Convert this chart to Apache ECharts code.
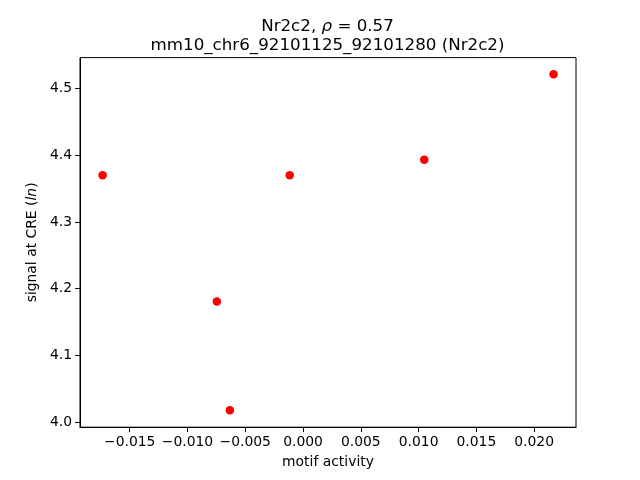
<!DOCTYPE html>
<html><head><meta charset="utf-8">
<script src="https://cdn.jsdelivr.net/npm/echarts@6/dist/echarts.min.js"></script>
<style>html,body{margin:0;padding:0;background:#fff}#c{width:640px;height:480px}</style>
</head><body><div id="c"></div>
<script>
const motifActivity = [-0.01734, -0.00746, -0.00633, -0.00115, 0.01049, 0.02168];
const signalLn = [4.370, 4.181, 4.018, 4.370, 4.393, 4.521];
const xTicks = [-0.015, -0.010, -0.005, 0.000, 0.005, 0.010, 0.015, 0.020];
const yTicks = [4.0, 4.1, 4.2, 4.3, 4.4, 4.5];
const xRange = [-0.0193, 0.02362];
const yRange = [3.9927, 4.546];

const fmt = (v, d) => { const s = Math.abs(v).toFixed(d); return (v < -1e-12 ? '\u2212' : '') + s; };
const font = 'DejaVu Sans';
const chart = echarts.init(document.getElementById('c'), null, {renderer: 'canvas'});
chart.setOption({
  animation: false,
  backgroundColor: '#fff',
  title: {
    left: 322.5, top: 12, textAlign: 'center',
    text: '{n|Nr2c2, }{i|ρ}{n| = 0.57}\n{n|mm10_chr6_92101125_92101280 (Nr2c2)}',
    textStyle: {
      fontWeight: 'normal',
      rich: {
        n: {fontFamily: font, fontSize: 16.7, fontWeight: 'normal', color: '#000', lineHeight: 19},
        i: {fontFamily: font, fontSize: 16.7, fontWeight: 'normal', fontStyle: 'italic', color: '#000', lineHeight: 19}
      }
    }
  },
  grid: {left: 80, right: 64, top: 57.6, bottom: 52.8, show: true, borderColor: '#000', borderWidth: 1},
  xAxis: {
    type: 'value', min: xRange[0], max: xRange[1],
    name: 'motif activity', nameLocation: 'middle', nameGap: 28,
    nameTextStyle: {fontFamily: font, fontSize: 13.9, color: '#000'},
    axisLine: {show: true, onZero: false, lineStyle: {color: '#000', width: 1}},
    axisTick: {show: true, inside: false, length: 4.9, lineStyle: {color: '#000'}, customValues: xTicks},
    axisLabel: {fontFamily: font, fontSize: 13.9, color: '#000', margin: 8, customValues: xTicks,
      formatter: v => fmt(v, 3)},
    splitLine: {show: false}
  },
  yAxis: {
    type: 'value', min: yRange[0], max: yRange[1],
    name: '{a|signal at CRE (}{b|ln}{a|)}', nameLocation: 'middle', nameGap: 39,
    nameTextStyle: {rich: {
      a: {fontFamily: font, fontSize: 13.9, color: '#000'},
      b: {fontFamily: font, fontSize: 13.9, color: '#000', fontStyle: 'italic'}
    }},
    axisLine: {show: true, onZero: false, lineStyle: {color: '#000', width: 1}},
    axisTick: {show: true, inside: false, length: 4.9, lineStyle: {color: '#000'}, customValues: yTicks},
    axisLabel: {fontFamily: font, fontSize: 13.9, color: '#000', margin: 8, customValues: yTicks,
      formatter: v => fmt(v, 1)},
    splitLine: {show: false}
  },
  series: [{
    type: 'scatter',
    data: motifActivity.map((x, i) => [x, signalLn[i]]),
    symbol: 'circle', symbolSize: 8.5,
    itemStyle: {color: '#ff0000', opacity: 1}
  }]
});
</script></body></html>
